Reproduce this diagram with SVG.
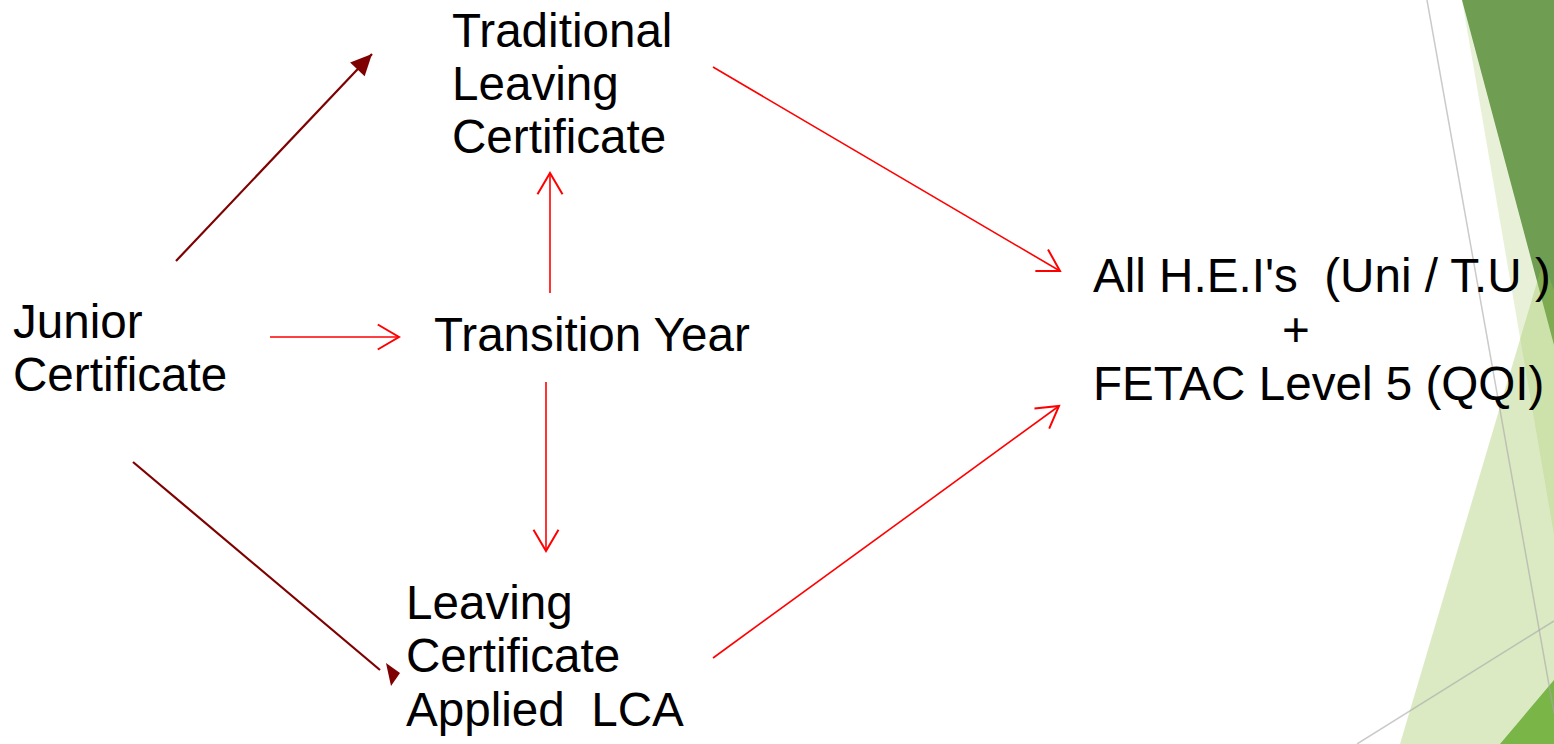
<svg xmlns="http://www.w3.org/2000/svg" width="1554" height="744" viewBox="0 0 1554 744">
<defs>
<style>
.t{font-family:"Liberation Sans",Arial,sans-serif;font-size:47.6px;fill:#000;white-space:pre}
.r{stroke:#FF0000;stroke-width:1.6;fill:none}
.m{stroke:#7F0000;stroke-width:2.2;fill:none}
.deco{stroke:#A6A6A6;stroke-opacity:0.6;stroke-width:1.5}
</style>
<marker id="open" markerUnits="userSpaceOnUse" markerWidth="30" markerHeight="30" viewBox="-20 -12 22 24" refX="0" refY="0" orient="auto">
<path d="M-17,-10 L0,0 L-17,10" fill="none" stroke="#FF0000" stroke-width="1.6"/>
</marker>
<marker id="solid" markerUnits="userSpaceOnUse" markerWidth="30" markerHeight="30" viewBox="-20 -12 22 24" refX="0" refY="0" orient="auto">
<path d="M-17,-8 L0,0 L-17,8 Z" fill="#7F0000"/>
</marker>
</defs>
<rect width="1554" height="744" fill="#FFFFFF"/>
<g id="decoration">
<polygon points="1462,0 1554,0 1554,535" fill="#9BC356" fill-opacity="0.23"/>
<polygon points="1462,0 1554,0 1554,345" fill="#6F9D51"/>
<polygon points="1543,262 1400,744 1554,744 1554,290" fill="#9BC356" fill-opacity="0.35"/>
<polygon points="1500,744 1554,680 1554,744" fill="#7AB548"/>
<line class="deco" x1="1427" y1="0" x2="1554" y2="713"/>
<line class="deco" x1="1357" y1="744" x2="1554" y2="621"/>
</g>
<g id="connectors">
<line class="m" x1="176" y1="261" x2="372" y2="54" marker-end="url(#solid)"/>
<line class="m" x1="133" y1="462" x2="380" y2="670"/>
<polygon points="386,663 400,673 391,686" fill="#7F0000"/>
<line class="r" x1="270" y1="337" x2="399" y2="337" marker-end="url(#open)"/>
<line class="r" x1="550" y1="293" x2="550" y2="173" marker-end="url(#open)"/>
<line class="r" x1="546" y1="382" x2="546" y2="551" marker-end="url(#open)"/>
<line class="r" x1="713" y1="67" x2="1060" y2="271" marker-end="url(#open)"/>
<line class="r" x1="713" y1="658" x2="1059" y2="406" marker-end="url(#open)"/>
</g>
<g id="junior">
<text class="t" x="13" y="338">Junior</text>
<text class="t" x="13" y="391">Certificate</text>
</g>
<g id="traditional">
<text class="t" x="452" y="47">Traditional</text>
<text class="t" x="452" y="100">Leaving</text>
<text class="t" x="452" y="153">Certificate</text>
</g>
<g id="transition">
<text class="t" x="434" y="351">Transition Year</text>
</g>
<g id="lca">
<text class="t" x="406" y="619">Leaving</text>
<text class="t" x="406" y="672">Certificate</text>
<text class="t" x="406" y="726">Applied  LCA</text>
</g>
<g id="hei">
<text class="t" x="1093" y="292">All H.E.I's  (Uni / T.U )</text>
<text class="t" x="1296" y="346" text-anchor="middle">+</text>
<text class="t" x="1093" y="400">FETAC Level 5 (QQI)</text>
</g>
</svg>
